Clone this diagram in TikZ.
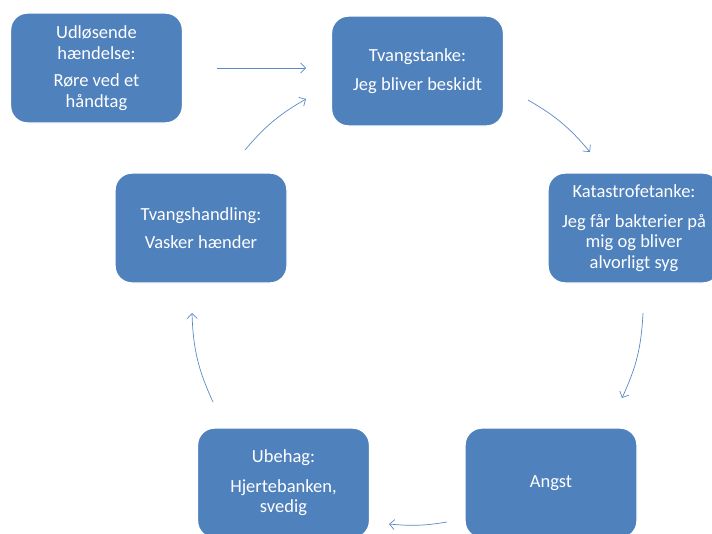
\documentclass[tikz,border=0pt]{standalone}
\usepackage{fontspec}
\setmainfont{Carlito}
\usetikzlibrary{arrows.meta,positioning}
\definecolor{boxblue}{HTML}{4F81BD}
\definecolor{arrblue}{HTML}{5A8AC6}

\begin{document}
\begin{tikzpicture}[x=1pt, y=-1pt,
    >={Straight Barb[length=5pt,width=10pt]},
    every edge/.style={draw=arrblue, line width=0.7pt},
    card/.style={rectangle, rounded corners=17pt, fill=boxblue, draw=white,
      line width=1.4pt, minimum width=172pt, minimum height=110pt,
      text=white, align=center, font=\fontsize{18.5}{20.5}\selectfont}]
  \clip (0,0) rectangle (712,533);
  % the OCD cycle, clockwise from the trigger
  \node[card] (trig) at (96.5,68)  {Udløsende\\hændelse:\\[7pt]Røre ved et\\håndtag};
  \node[card] (obs)  at (417.5,71) {Tvangstanke:\\[8pt]Jeg bliver beskidt};
  \node[card] (cat)  at (634,228)  {Katastrofetanke:\\[9pt]Jeg får bakterier på\\mig og bliver\\alvorligt syg};
  \node[card] (anx)  at (551,483)  {Angst};
  \node[card] (dis)  at (283.5,483){Ubehag:\\[9pt]Hjertebanken,\\svedig};
  \node[card] (comp) at (201,228)  {Tvangshandling:\\[8pt]Vasker hænder};
  % arrow ends on the cycle
  \coordinate (t1) at (217,68);  \coordinate (t2) at (306,68);
  \coordinate (o1) at (528,100); \coordinate (o2) at (590,152);
  \coordinate (c1) at (643,313); \coordinate (c2) at (622,398);
  \coordinate (a1) at (447,522); \coordinate (a2) at (389,524);
  \coordinate (d1) at (213,402); \coordinate (d2) at (192,313);
  \coordinate (p1) at (245,150); \coordinate (p2) at (306,99);
  \path[->]
    (t1) edge (t2)
    (o1) edge[bend left=10] (o2)
    (c1) edge[bend left=11] (c2)
    (a1) edge[bend left=7.5] (a2)
    (d1) edge[bend left=11.5] (d2)
    (p1) edge[bend left=10] (p2);
\end{tikzpicture}
\end{document}
